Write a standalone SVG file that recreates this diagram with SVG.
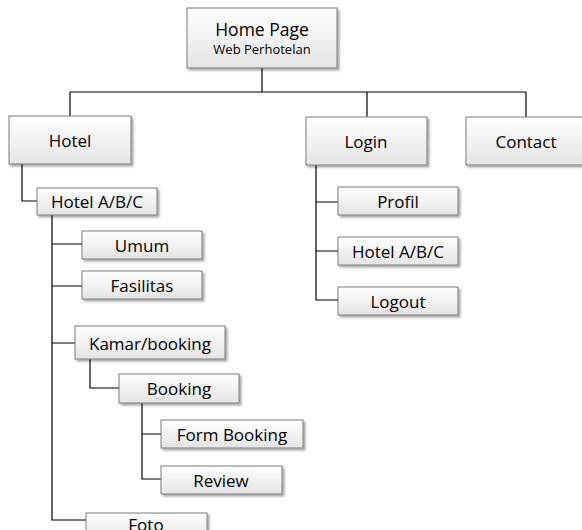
<svg xmlns="http://www.w3.org/2000/svg" width="582" height="530" viewBox="0 0 582 530">
  <defs>
    <linearGradient id="boxFill" x1="0" y1="0" x2="0" y2="1">
      <stop offset="0" stop-color="#ffffff"/>
      <stop offset="1" stop-color="#e4e4e4"/>
    </linearGradient>
    <filter id="shadow" x="-10%" y="-10%" width="130%" height="140%">
      <feDropShadow dx="2" dy="2" stdDeviation="0.8" flood-color="#000" flood-opacity="0.35"/>
    </filter>
  </defs>
  <style>
    .box { fill: url(#boxFill); stroke: #7a7a7a; stroke-width: 1; filter: url(#shadow); }
    .lbl { font-family: "Open Sans", "Liberation Sans", sans-serif; font-size: 17px; fill: #000; text-anchor: middle; dominant-baseline: central; }
    .sub { font-size: 13px; }
    .wire { fill: none; stroke: #000; stroke-width: 1.2; }
  </style>
  <rect width="582" height="530" fill="#ffffff"/>

  <g id="connectors">
    <path class="wire" d="M262 68V92M70 92H526M70 92V116M367 92V117M526 92V117"/>
    <path class="wire" d="M22 164V201H37"/>
    <path class="wire" d="M316 165V300H338M316 202H338M316 251H338"/>
    <path class="wire" d="M52 215V520H86M52 244H82M52 286H82M52 343H75"/>
    <path class="wire" d="M90 359V388H119"/>
    <path class="wire" d="M142 403V479H161M142 434H161"/>
  </g>

  <g id="home">
    <rect class="box" x="187" y="8" width="150" height="60"/>
    <text class="lbl" x="262" y="29" style="font-size:17.5px">Home Page</text>
    <text class="lbl sub" x="262" y="49">Web Perhotelan</text>
  </g>
  <g id="hotel">
    <rect class="box" x="9" y="116" width="122" height="48"/>
    <text class="lbl" x="70" y="140">Hotel</text>
  </g>
  <g id="login">
    <rect class="box" x="306" y="117" width="121" height="48"/>
    <text class="lbl" x="366" y="141">Login</text>
  </g>
  <g id="contact">
    <rect class="box" x="466" y="117" width="122" height="48"/>
    <text class="lbl" x="526" y="141">Contact</text>
  </g>
  <g id="hotel-abc">
    <rect class="box" x="37" y="188" width="120" height="27"/>
    <text class="lbl" x="97" y="201">Hotel A/B/C</text>
  </g>
  <g id="profil">
    <rect class="box" x="338" y="187" width="120" height="28"/>
    <text class="lbl" x="398" y="201">Profil</text>
  </g>
  <g id="login-hotel-abc">
    <rect class="box" x="338" y="237" width="120" height="28"/>
    <text class="lbl" x="398" y="251">Hotel A/B/C</text>
  </g>
  <g id="logout">
    <rect class="box" x="338" y="287" width="120" height="28"/>
    <text class="lbl" x="398" y="301">Logout</text>
  </g>
  <g id="umum">
    <rect class="box" x="82" y="231" width="120" height="28"/>
    <text class="lbl" x="142" y="245">Umum</text>
  </g>
  <g id="fasilitas">
    <rect class="box" x="82" y="271" width="120" height="28"/>
    <text class="lbl" x="142" y="285">Fasilitas</text>
  </g>
  <g id="kamar">
    <rect class="box" x="75" y="326" width="150" height="33"/>
    <text class="lbl" x="150" y="343">Kamar/booking</text>
  </g>
  <g id="booking">
    <rect class="box" x="119" y="374" width="120" height="29"/>
    <text class="lbl" x="179" y="388">Booking</text>
  </g>
  <g id="form-booking">
    <rect class="box" x="161" y="420" width="142" height="28"/>
    <text class="lbl" x="232" y="434">Form Booking</text>
  </g>
  <g id="review">
    <rect class="box" x="161" y="466" width="121" height="28"/>
    <text class="lbl" x="221" y="480">Review</text>
  </g>
  <g id="foto">
    <rect class="box" x="86" y="513" width="121" height="28"/>
    <text class="lbl" x="146" y="524">Foto</text>
  </g>
</svg>
